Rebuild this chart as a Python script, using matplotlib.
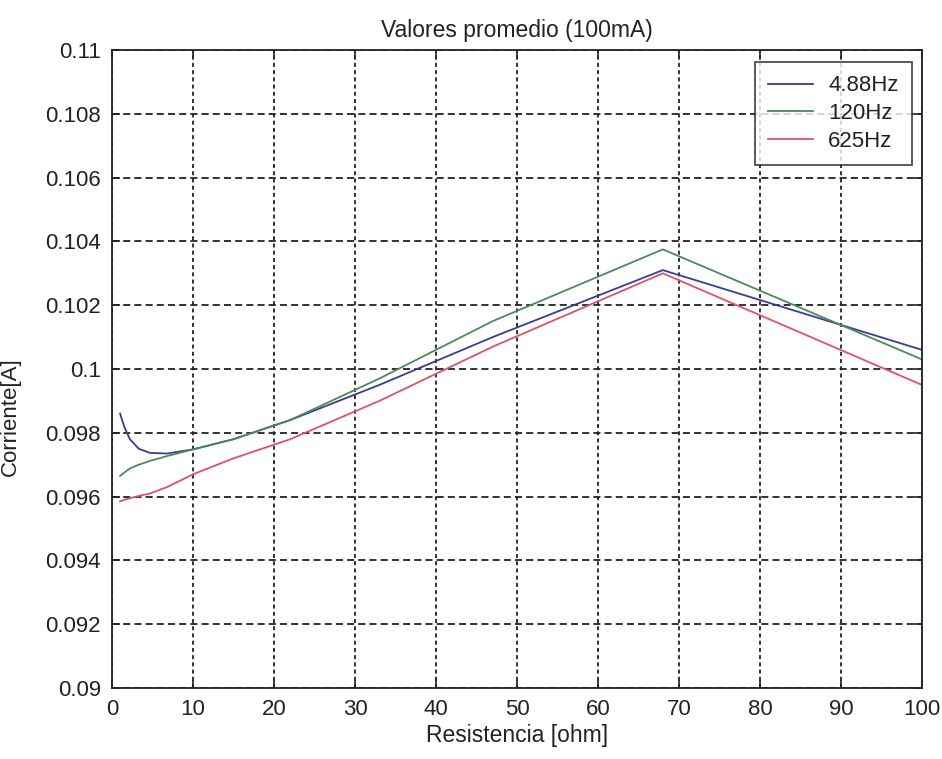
import matplotlib
matplotlib.use("Agg")
import matplotlib.pyplot as plt

plt.rcParams['font.family'] = ['Liberation Sans', 'DejaVu Sans']

# Load resistance values (ohm)
resistencia = [1, 1.5, 2.2, 3.3, 4.7, 6.8, 10, 15, 22, 33, 47, 68, 100]

# Average current (A) for each test frequency
corriente_488 = [0.0986, 0.0982, 0.0978, 0.09750, 0.09737, 0.09735, 0.09748,
                 0.0978, 0.0984, 0.0995, 0.1010, 0.1031, 0.1006]
corriente_120 = [0.09665, 0.09675, 0.09688, 0.09700, 0.09712, 0.09727, 0.09748,
                 0.0978, 0.0984, 0.0997, 0.1015, 0.10375, 0.1003]
corriente_625 = [0.09585, 0.0959, 0.09595, 0.09602, 0.0961, 0.0963, 0.0967,
                 0.0972, 0.0978, 0.0990, 0.1007, 0.1030, 0.0995]

series_labels = ["4.88Hz", "120Hz", "625Hz"]
series_colors = ["#3c3c8e", "#4a8a5c", "#e0506e"]

x_ticks = [0, 10, 20, 30, 40, 50, 60, 70, 80, 90, 100]
y_ticks = [0.09, 0.092, 0.094, 0.096, 0.098, 0.1, 0.102, 0.104, 0.106, 0.108, 0.11]
y_tick_labels = ["0.09", "0.092", "0.094", "0.096", "0.098", "0.1",
                 "0.102", "0.104", "0.106", "0.108", "0.11"]

fig = plt.figure(figsize=(9.42, 7.59), dpi=100)
ax = fig.add_axes([112 / 942, 1 - 688 / 759, 810 / 942, 638 / 759])

for y, lab, col in zip([corriente_488, corriente_120, corriente_625],
                       series_labels, series_colors):
    ax.plot(resistencia, y, color=col, linewidth=1.3, label=lab)

ax.set_xlim(0, 100)
ax.set_ylim(0.09, 0.11)
ax.set_xticks(x_ticks)
ax.set_yticks(y_ticks)
ax.set_xticklabels([str(v) for v in x_ticks])
ax.set_yticklabels(y_tick_labels)

ax.tick_params(direction='in', length=6, width=1.2, top=True, right=True,
               labelsize=16, colors='#222222', pad=8)
for sp in ax.spines.values():
    sp.set_linewidth(1.3)
    sp.set_color('#222222')

# MATLAB-style dotted grid
ax.xaxis.grid(True, color='#222222', linewidth=1.3, linestyle=(0, (2.2, 1.8)))
ax.yaxis.grid(True, color='#222222', linewidth=1.3, linestyle=(0, (3.9, 2.3)))
ax.set_axisbelow(True)

ax.set_title("Valores promedio (100mA)", fontsize=16.5, color='#222222', pad=9)
ax.set_xlabel("Resistencia [ohm]", fontsize=16.5, color='#222222', labelpad=3)
ax.set_ylabel("Corriente[A]", fontsize=16, color='#222222')
ax.yaxis.set_label_coords(-0.112, 0.425)

leg = ax.legend(loc='upper right', bbox_to_anchor=(912 / 942, 1 - 62 / 759),
                bbox_transform=fig.transFigure, fontsize=16, frameon=True,
                fancybox=False, borderpad=0.6, handlelength=2.0,
                handletextpad=0.7, labelspacing=0.3, borderaxespad=0)
leg.get_frame().set_edgecolor('#222222')
leg.get_frame().set_linewidth(1.3)
for t in leg.get_texts():
    t.set_color('#222222')

fig.savefig("out.png", dpi=100)
